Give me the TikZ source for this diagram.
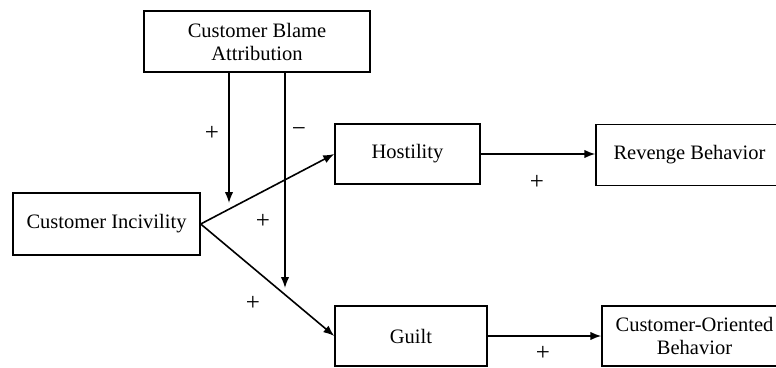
\documentclass[tikz,border=0pt]{standalone}
\usepackage{fontspec}
\setmainfont{Liberation Serif}
\usetikzlibrary{arrows.meta}
\tikzset{
  box/.style={draw, line width=1.4pt, minimum width=#1, align=center, inner sep=0pt, font=\fontsize{20.5}{23}\selectfont},
  conn/.style={line width=1.6pt, -{Latex[length=11pt,width=8.5pt]}},
  sign/.style={font=\fontsize{25}{26}\selectfont, inner sep=0pt}
}
\begin{document}
\begin{tikzpicture}[x=1pt,y=-1pt]
\clip (0,0) rectangle (776,367);
\node[box=226pt, minimum height=61pt] (blame) at (257,41.5) {Customer Blame\\Attribution};
\node[box=187pt, minimum height=62pt] (inc) at (106.5,224) {Customer Incivility};
\node[box=145pt, minimum height=60pt] (hos) at (407.5,154) {Hostility};
\node[box=187pt, minimum height=61pt] (rev) at (689.5,155) {Revenge Behavior};
\node[box=152pt, minimum height=60pt] (guilt) at (411,336) {Guilt};
\node[box=185pt, minimum height=60pt] (cob) at (694.5,336) {Customer-Oriented\\Behavior};
\coordinate (m1) at (229,203);
\coordinate (m2) at (285,288);
\draw[conn] (inc.east) -- (hos.west);
\draw[conn] (inc.east) -- (guilt.west);
\draw[conn] (hos.east) -- (hos.east -| rev.west);
\draw[conn] (guilt.east) -- (guilt.east -| cob.west);
\draw[conn] (blame.south -| m1) -- (m1);
\draw[conn] (blame.south -| m2) -- (m2);
\node[sign] (s1) at (212,133) {+};
\node[sign] (s2) at (299,132) {−};
\node[sign] (s3) at (263,221) {+};
\node[sign] (s4) at (253,303) {+};
\node[sign] (s5) at (537,182) {+};
\node[sign] (s6) at (543,353) {+};
\end{tikzpicture}
\end{document}
